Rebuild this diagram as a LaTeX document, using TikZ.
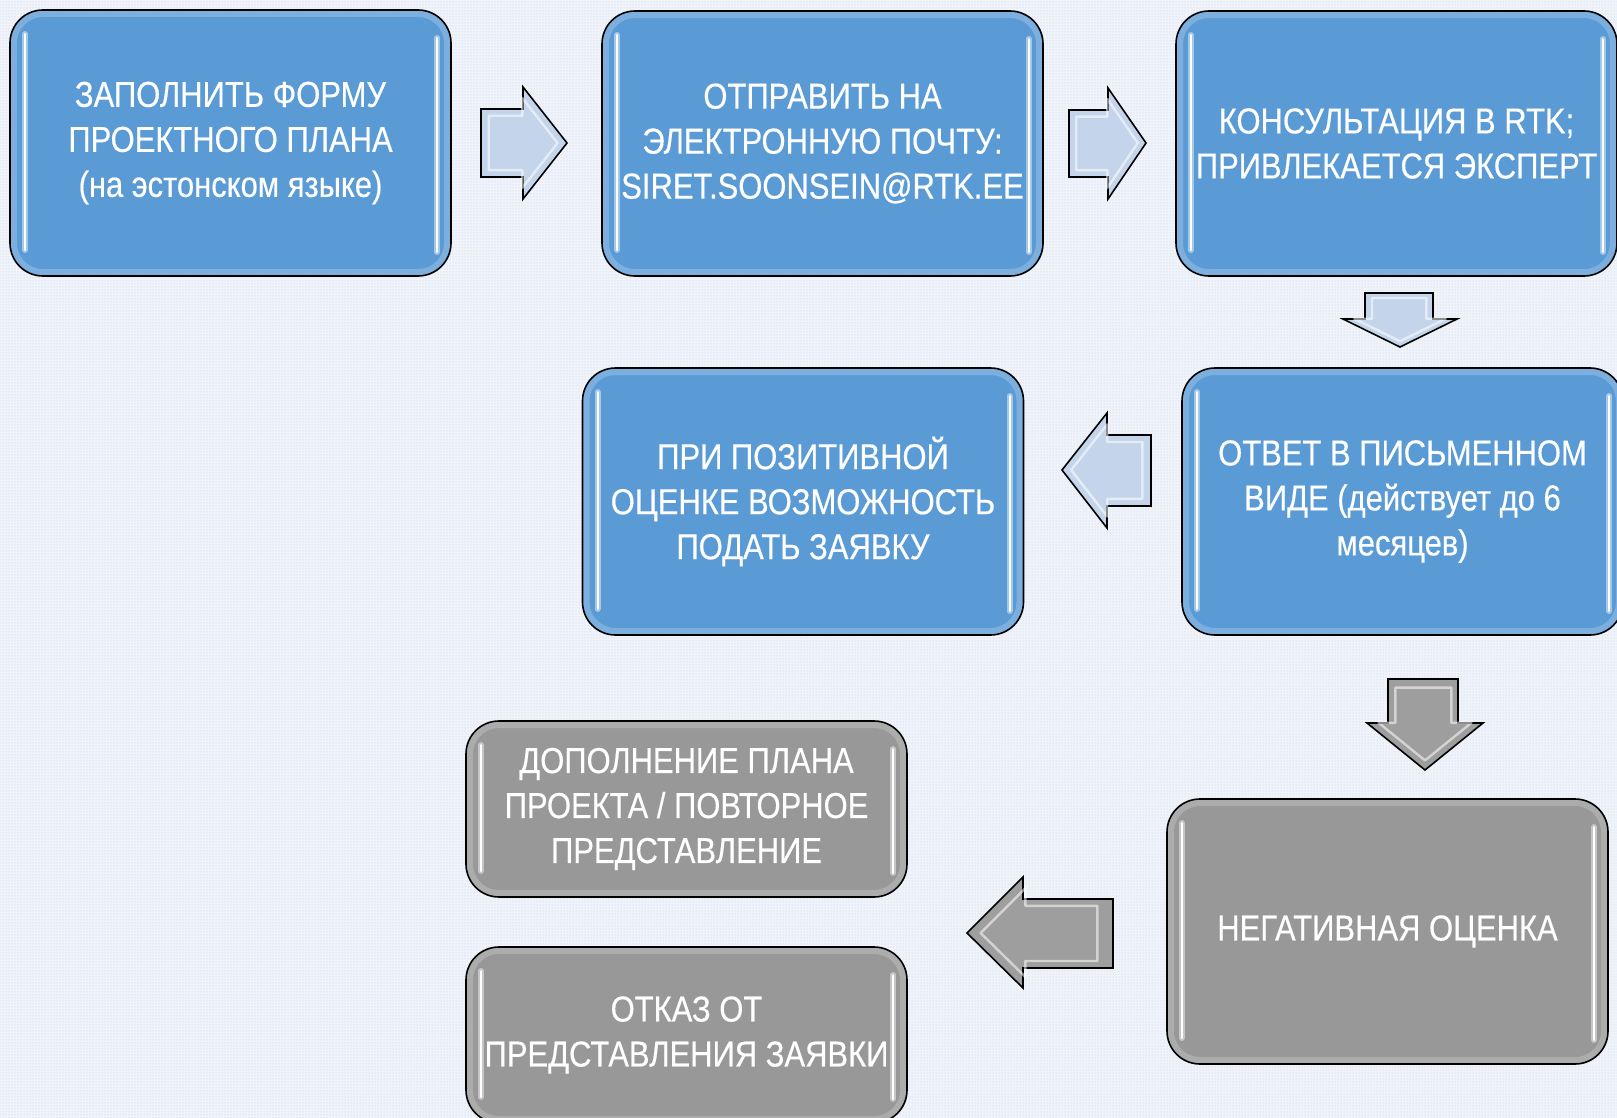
\documentclass[tikz,border=0pt]{standalone}
\usepackage{fontspec}
\newfontfamily\boxfont[FakeStretch=0.86,FakeBold=0.4]{Liberation Sans}
\usetikzlibrary{calc,patterns}
\definecolor{bgc}{RGB}{240,244,250}
\definecolor{dotc}{RGB}{190,206,230}
\definecolor{boxblue}{RGB}{91,155,213}
\definecolor{boxgray}{RGB}{152,152,152}
\definecolor{arrowblue}{RGB}{196,213,235}
\definecolor{arrowgray}{RGB}{158,158,158}
\newcommand\boxbevel[1]{%
  \draw[line width=14pt, #1!55!white, opacity=.45, rounded corners=33pt]
    (path picture bounding box.south west) rectangle (path picture bounding box.north east);
  \draw[line width=6pt, #1!25!white, opacity=.6, line cap=round]
    ($(path picture bounding box.north west)+(15pt,-24pt)$) -- ($(path picture bounding box.south west)+(15pt,26pt)$);
  \draw[line width=2pt, white, line cap=round]
    ($(path picture bounding box.north west)+(15pt,-24pt)$) -- ($(path picture bounding box.south west)+(15pt,26pt)$);
  \draw[line width=6pt, #1!25!white, opacity=.6, line cap=round]
    ($(path picture bounding box.north east)+(-14pt,-28pt)$) -- ($(path picture bounding box.south east)+(-14pt,24pt)$);
  \draw[line width=2pt, white, line cap=round]
    ($(path picture bounding box.north east)+(-14pt,-28pt)$) -- ($(path picture bounding box.south east)+(-14pt,24pt)$);
}
\newcommand\blockarrow[4]{%
  \draw[#1] #2;
  \begin{scope}[shift={(#3,#4)},scale=0.8,shift={(-#3,-#4)}]
    \draw[white, opacity=.55, line width=2.4pt, line join=round] #2;
  \end{scope}
}
\begin{document}
\begin{tikzpicture}[x=1pt,y=-1pt,
  boxbase/.style={rectangle, rounded corners=33pt, draw=black, line width=1.6pt,
    text=white, align=center, inner sep=0pt,
    font=\boxfont\fontsize{36pt}{45pt}\selectfont, minimum width=441pt},
  bluebox/.style={boxbase, fill=boxblue, path picture={\boxbevel{boxblue}}},
  graybox/.style={boxbase, fill=boxgray, path picture={\boxbevel{boxgray}}},
  lightarrow/.style={fill=arrowblue, draw=black, line width=1.6pt, line join=miter},
  grayarrow/.style={fill=arrowgray, draw=black, line width=1.6pt, line join=miter}
]
\useasboundingbox (0,0) rectangle (1617,1118);
\clip (0,0) rectangle (1617,1118);
\fill[bgc] (0,0) rectangle (1617,1118);
\fill[pattern=dots, pattern color=dotc] (0,0) rectangle (1617,1118);

\node[bluebox, minimum height=266pt] (b1) at (230.5,143) {ЗАПОЛНИТЬ ФОРМУ\\ПРОЕКТНОГО ПЛАНА\\(на эстонском языке)};
\node[bluebox, minimum height=265pt] (b2) at (822.5,143.5) {ОТПРАВИТЬ НА\\ЭЛЕКТРОННУЮ ПОЧТУ:\\SIRET.SOONSEIN@RTK.EE};
\node[bluebox, minimum height=265pt] (b3) at (1396.5,143.5) {КОНСУЛЬТАЦИЯ В RTK;\\ПРИВЛЕКАЕТСЯ ЭКСПЕРТ};
\node[bluebox, minimum height=267pt] (b4) at (803,501.5) {ПРИ ПОЗИТИВНОЙ\\ОЦЕНКЕ ВОЗМОЖНОСТЬ\\ПОДАТЬ ЗАЯВКУ};
\node[bluebox, minimum height=267pt] (b5) at (1402.5,501.5) {ОТВЕТ В ПИСЬМЕННОМ\\ВИДЕ (действует до 6\\месяцев)};
\node[graybox, minimum height=176pt] (b6) at (686.5,809) {ДОПОЛНЕНИЕ ПЛАНА\\ПРОЕКТА / ПОВТОРНОЕ\\ПРЕДСТАВЛЕНИЕ};
\node[graybox, minimum height=176pt] (b7) at (686.5,1035) {ОТКАЗ ОТ\\ПРЕДСТАВЛЕНИЯ ЗАЯВКИ};
\node[graybox, minimum height=265pt] (b8) at (1387.5,931.5) {НЕГАТИВНАЯ ОЦЕНКА};

\blockarrow{lightarrow}{(481,109) -- (523,109) -- (523,87) -- (567,143) -- (523,199) -- (523,177) -- (481,177) -- cycle}{520}{143}
\blockarrow{lightarrow}{(1069,110) -- (1108,110) -- (1108,88) -- (1146,143) -- (1108,199) -- (1108,177) -- (1069,177) -- cycle}{1105}{143}
\blockarrow{lightarrow}{(1365,293) -- (1433,293) -- (1433,319) -- (1457,319) -- (1400,347) -- (1343,319) -- (1365,319) -- cycle}{1400}{318}
\blockarrow{lightarrow}{(1151,435) -- (1107,435) -- (1107,413) -- (1062,470) -- (1107,528) -- (1107,506) -- (1151,506) -- cycle}{1108}{470}
\blockarrow{grayarrow}{(1388,679) -- (1458,679) -- (1458,723) -- (1483,723) -- (1425,770) -- (1367,723) -- (1388,723) -- cycle}{1425}{722}
\blockarrow{grayarrow}{(1113,899) -- (1023,899) -- (1023,877) -- (967,933) -- (1023,988) -- (1023,968) -- (1113,968) -- cycle}{1035}{933}
\end{tikzpicture}
\end{document}
